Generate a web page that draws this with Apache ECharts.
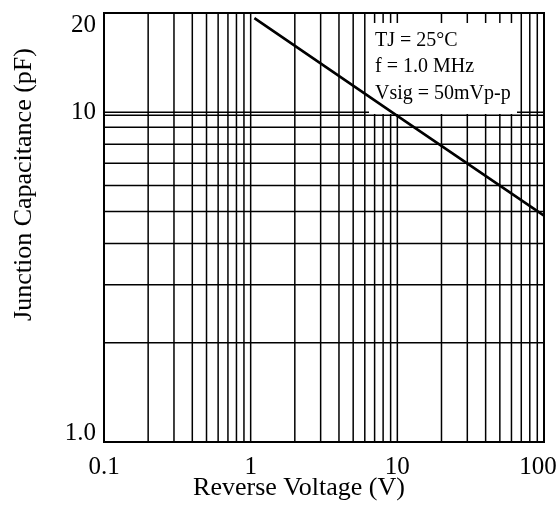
<!DOCTYPE html>
<html>
<head>
<meta charset="utf-8">
<script src="https://cdn.jsdelivr.net/npm/echarts@6/dist/echarts.min.js"></script>
<style>
html,body{margin:0;padding:0;background:#fff}
#chart{width:560px;height:505px}
</style>
</head>
<body>
<div id="chart"></div>
<script>
// curve (log-log)
var voltage = [1.06, 10, 100];
var capacitance = [19.3, 9.75, 4.86];

// axes
var xMin = 0.1, xMax = 100;
var yMin = 1, yMax = 20;
var xTicks = [0.1, 1, 10, 100];
var xTickLabels = ['0.1', '1', '10', '100'];
var yTicks = [1, 10, 20];
var yTickLabels = ['1.0', '10', '20'];

// grid lines
var xGrid = [0.2, 0.3, 0.4, 0.5, 0.6, 0.7, 0.8, 0.9, 1,
             2, 3, 4, 5, 6, 7, 8, 9, 10,
             20, 30, 40, 50, 60, 70, 80, 90];
var yGrid = [2, 3, 4, 5, 6, 7, 8, 9, 9.8, 10];

var notes = ['TJ = 25°C', 'f = 1.0 MHz', 'Vsig = 50mVp-p'];

var font = 'Liberation Serif';

function pickLabel(v, ticks, labels) {
    for (var i = 0; i < ticks.length; i++) {
        if (Math.abs(ticks[i] - v) / ticks[i] < 1e-3) return labels[i];
    }
    return '';
}

var chart = echarts.init(document.getElementById('chart'));

var option = {
    animation: false,
    backgroundColor: '#fff',
    grid: {
        left: 104, right: 16, top: 13, bottom: 63,
        outerBoundsMode: 'none',
        containLabel: false,
        show: true, borderColor: '#000', borderWidth: 2
    },
    xAxis: {
        type: 'log',
        logBase: 10,
        min: xMin,
        max: xMax,
        name: 'Reverse Voltage (V)',
        nameLocation: 'middle',
        nameMoveOverlap: false,
        nameGap: 33,
        nameTextStyle: {fontFamily: font, fontSize: 26, color: '#000', padding: [0, 50, 0, 0]},
        axisLine: {show: false},
        axisTick: {show: false},
        splitLine: {show: false},
        axisLabel: {
            fontFamily: font, fontSize: 25, color: '#000', margin: 13,
            formatter: function (v) {
                var s = pickLabel(v, xTicks, xTickLabels);
                if (v === xMax) return '{mx|' + s + '}';
                return s;
            },
            rich: {
                mx: {fontFamily: font, fontSize: 25, color: '#000', padding: [0, 12, 0, 0]}
            }
        }
    },
    yAxis: {
        type: 'log',
        logBase: 10,
        min: yMin,
        max: yMax,
        name: 'Junction Capacitance (pF)',
        nameLocation: 'middle',
        nameMoveOverlap: false,
        nameRotate: 90,
        nameGap: 67,
        nameTextStyle: {fontFamily: font, fontSize: 26, color: '#000', padding: [0, 0, 0, 86]},
        axisLine: {show: false},
        axisTick: {show: false},
        splitLine: {show: false},
        axisLabel: {
            fontFamily: font, fontSize: 25, color: '#000', margin: 8,
            formatter: function (v) {
                var s = pickLabel(v, yTicks, yTickLabels);
                if (v === yMax) return '{mx|' + s + '}';
                if (v === yMin) return '{mn|' + s + '}';
                return s;
            },
            rich: {
                mx: {fontFamily: font, fontSize: 25, color: '#000', padding: [24, 0, 0, 0]},
                mn: {fontFamily: font, fontSize: 25, color: '#000', padding: [0, 0, 18, 0]}
            }
        }
    },
    graphic: [
        {
            type: 'rect',
            z: 3,
            silent: true,
            shape: {x: 369, y: 23, width: 148, height: 91},
            style: {fill: '#fff'}
        },
        {
            type: 'text',
            z: 4,
            silent: true,
            left: 375,
            top: 27,
            style: {
                text: notes.join('\n'),
                font: '20px "Liberation Serif"',
                lineHeight: 26.6,
                fill: '#000'
            }
        }
    ],
    series: [
        {
            type: 'custom',
            z: 1,
            silent: true,
            data: xGrid.map(function (v) { return [v, yMin]; }),
            renderItem: function (params, api) {
                var a = api.coord([api.value(0), yMin]);
                var b = api.coord([api.value(0), yMax]);
                return {
                    type: 'line',
                    shape: {x1: a[0], y1: a[1], x2: b[0], y2: b[1]},
                    style: {stroke: '#000', lineWidth: 1.5}
                };
            }
        },
        {
            type: 'custom',
            z: 1,
            silent: true,
            data: yGrid.map(function (v) { return [xMin, v]; }),
            renderItem: function (params, api) {
                var a = api.coord([xMin, api.value(1)]);
                var b = api.coord([xMax, api.value(1)]);
                return {
                    type: 'line',
                    shape: {x1: a[0], y1: a[1], x2: b[0], y2: b[1]},
                    style: {stroke: '#000', lineWidth: 1.5}
                };
            }
        },
        {
            type: 'line',
            z: 10,
            silent: true,
            showSymbol: false,
            lineStyle: {color: '#000', width: 2.6},
            data: voltage.map(function (v, i) { return [v, capacitance[i]]; })
        }
    ]
};

chart.setOption(option);
</script>
</body>
</html>
